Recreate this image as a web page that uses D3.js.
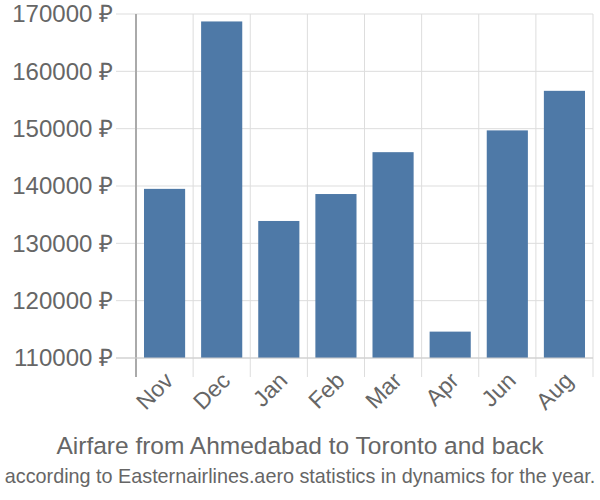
<!DOCTYPE html>
<html><head><meta charset="utf-8">
<script src="https://cdn.jsdelivr.net/npm/d3@7"></script>
<style>body{margin:0;background:#fff;} text{font-family:"Liberation Sans",Arial,sans-serif;}</style>
</head><body>
<svg id="c" width="600" height="500"></svg>
<script>
const categories = ["Nov","Dec","Jan","Feb","Mar","Apr","Jun","Aug"];
const values = [139500, 168700, 133900, 138600, 145900, 114600, 149700, 156600];
const yTicks = [110000,120000,130000,140000,150000,160000,170000];
const title = "Airfare from Ahmedabad to Toronto and back";
const subtitle = "according to Easternairlines.aero statistics in dynamics for the year.";

(function(){
const svg = d3.select("#c");
const mL = 136, mR = 593, mT = 14, mB = 358;
const x = d3.scaleBand().domain(categories).range([mL, mR]).paddingInner(0.28).paddingOuter(0.14);
const xg = d3.scaleBand().domain(categories).range([mL, mR]);
const y = d3.scaleLinear().domain([110000,170000]).range([mB, mT]);

svg.append("g").selectAll("line").data(yTicks).join("line")
  .attr("x1", 116).attr("x2", mR).attr("y1", d=>y(d)).attr("y2", d=>y(d))
  .attr("stroke", "#ddd").attr("stroke-width", 1);
const vx = categories.map(c=>xg(c)).concat([mR]);
svg.append("g").selectAll("line").data(vx).join("line")
  .attr("x1", d=>d).attr("x2", d=>d).attr("y1", mT).attr("y2", 377)
  .attr("stroke", "#ddd").attr("stroke-width", 1);

svg.append("g").selectAll("rect").data(values).join("rect")
  .attr("x", (d,i)=>x(categories[i])).attr("width", x.bandwidth())
  .attr("y", d=>y(d)).attr("height", d=>mB - y(d))
  .attr("fill", "#4e79a7");

svg.append("line").attr("x1", mL).attr("x2", mL).attr("y1", mT).attr("y2", 377)
  .attr("stroke", "#aaa").attr("stroke-width", 2);
svg.append("line").attr("x1", 116).attr("x2", mR).attr("y1", mB).attr("y2", mB)
  .attr("stroke", "#ccc").attr("stroke-width", 1);

svg.append("g").selectAll("text").data(yTicks).join("text")
  .attr("x", 113).attr("y", d=>y(d)).attr("dy", "0.35em")
  .attr("text-anchor", "end").attr("font-size", 24).attr("fill", "#666")
  .text(d=>d + " ₽");

svg.append("g").selectAll("text").data(categories).join("text")
  .attr("transform", c=>`translate(${xg(c)+xg.bandwidth()/2+10},${382}) rotate(-45)`)
  .attr("text-anchor", "end").attr("font-size", 23).attr("fill", "#666")
  .text(c=>c);

svg.append("text").attr("x", 300).attr("y", 454).attr("text-anchor", "middle")
  .attr("font-size", 24.5).attr("fill", "#666").text(title);
svg.append("text").attr("x", 300).attr("y", 483).attr("text-anchor", "middle")
  .attr("font-size", 19.8).attr("fill", "#666").text(subtitle);
})();
</script>
</body></html>
